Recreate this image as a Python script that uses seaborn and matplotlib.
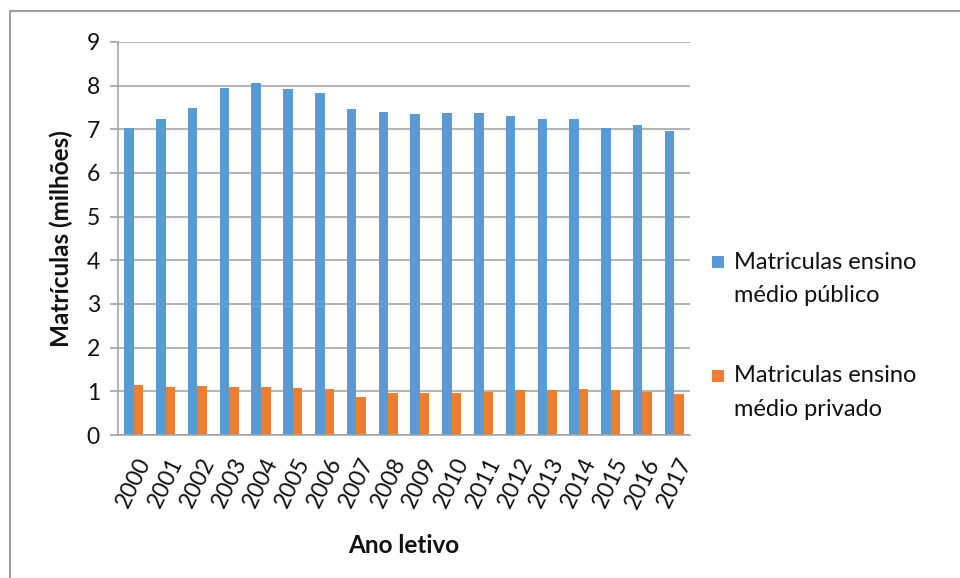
import matplotlib
matplotlib.use("Agg")
import matplotlib.pyplot as plt
import seaborn as sns
import pandas as pd
from matplotlib.patches import Rectangle

anos = [str(a) for a in range(2000, 2018)]
publico = [7.02, 7.23, 7.48, 7.94, 8.05, 7.92, 7.83, 7.47, 7.39,
           7.35, 7.38, 7.38, 7.30, 7.24, 7.23, 7.02, 7.11, 6.95]
privado = [1.15, 1.10, 1.12, 1.11, 1.10, 1.08, 1.05, 0.88, 0.97,
           0.97, 0.97, 0.99, 1.04, 1.04, 1.06, 1.03, 0.99, 0.95]
serie_pub = "Matriculas ensino\nmédio público"
serie_priv = "Matriculas ensino\nmédio privado"

df = pd.DataFrame({
    "ano": anos * 2,
    "valor": publico + privado,
    "serie": [serie_pub] * len(anos) + [serie_priv] * len(anos),
})

sns.set_theme(style="white")
plt.rcParams["font.family"] = ["Lato", "DejaVu Sans"]

fig = plt.figure(figsize=(9.6, 5.78), dpi=100)
ax = fig.add_axes([0.1229, 0.2474, 0.596, 0.680])

colors = {serie_pub: "#5B9BD5", serie_priv: "#ED7D31"}
sns.barplot(data=df, x="ano", y="valor", hue="serie", palette=colors,
            width=0.6, ax=ax, legend=False, saturation=1, edgecolor="none")

ax.set_ylim(0, 9)
ax.set_yticks(range(0, 10))
ax.set_xlim(-0.5, len(anos) - 0.5)
grid_c = "#A6A6A6"
ax.yaxis.grid(True, color=grid_c, linewidth=1.2)
ax.set_axisbelow(True)
for s in ["top", "right"]:
    ax.spines[s].set_visible(False)
for s in ["left", "bottom"]:
    ax.spines[s].set_color(grid_c)
    ax.spines[s].set_linewidth(1.2)
ax.tick_params(axis="y", left=True, length=6, color=grid_c, labelsize=16.5, pad=7,
               labelcolor="#111111")
ax.tick_params(axis="x", bottom=False, labelsize=16.5, pad=8, labelcolor="#111111")
plt.setp(ax.get_xticklabels(), rotation=64, ha="center", va="top",
         rotation_mode="default")
ax.set_ylabel("Matrículas (milhões)", fontsize=17.5, fontweight="bold", labelpad=10,
              color="#111111")
ax.set_xlabel("Ano letivo", fontsize=17.5, fontweight="bold", labelpad=16,
              color="#111111")

# legend drawn manually: square aligned with first text line
W, H = 960, 578
def fx(px):
    return px / W
def fy(py):
    return 1 - py / H

entries = [(serie_pub, colors[serie_pub], 262), (serie_priv, colors[serie_priv], 376)]
for label, col, ycen in entries:
    fig.patches.append(Rectangle((fx(712), fy(ycen + 6)), 12 / W, 12 / H,
                                 transform=fig.transFigure, facecolor=col,
                                 edgecolor="none"))
    l1, l2 = label.split("\n")
    fig.text(fx(734), fy(ycen), l1, fontsize=17, va="center", ha="left",
             color="#111111")
    fig.text(fx(734), fy(ycen + 34), l2, fontsize=17, va="center", ha="left",
             color="#111111")

# chart-area border (right and bottom edges fall outside the canvas)
fig.patches.append(Rectangle((fx(10), fy(600)), 980 / W, 589 / H,
                             transform=fig.transFigure, fill=False,
                             edgecolor="#8C8C8C", linewidth=1.2))

fig.savefig("out.png", dpi=100)
